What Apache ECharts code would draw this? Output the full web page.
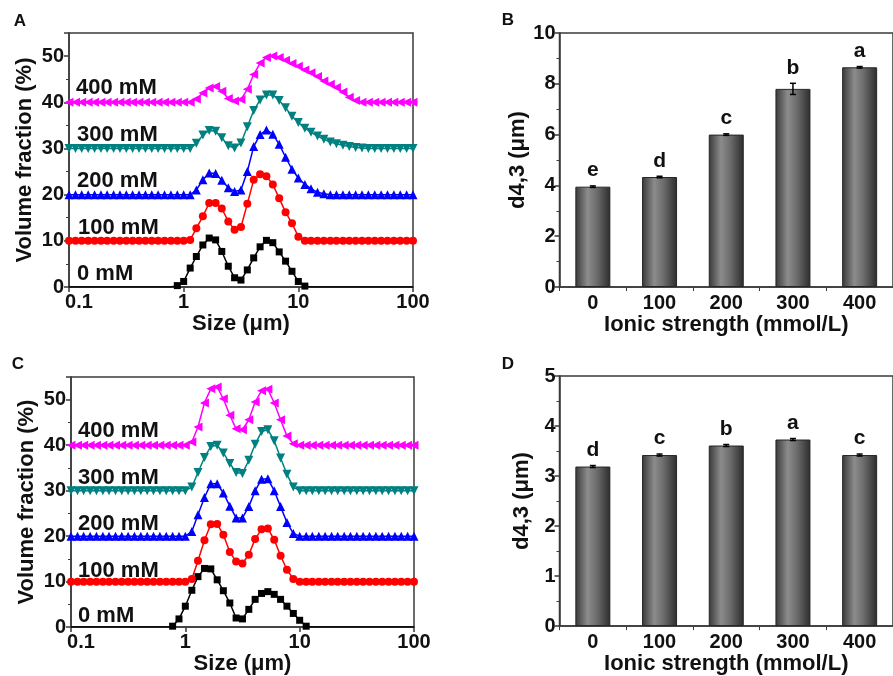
<!DOCTYPE html>
<html>
<head>
<meta charset="utf-8">
<script src="https://cdn.jsdelivr.net/npm/echarts/dist/echarts.min.js"></script>
<style>
html, body { margin: 0; padding: 0; background: #fff; }
#main { width: 893px; height: 676px; }
</style>
</head>
<body>
<div id="main"></div>
<script>
// particle size classes (um)
var sizes = [0.1, 0.114, 0.129, 0.147, 0.167, 0.19, 0.215, 0.245, 0.278, 0.316, 0.359, 0.408, 0.464, 0.527, 0.599, 0.681, 0.774, 0.88,
  1, 1.14, 1.29, 1.47, 1.67, 1.9, 2.15, 2.45, 2.78, 3.16, 3.59, 4.08, 4.64, 5.27, 5.99, 6.81, 7.74, 8.8,
  10, 11.4, 12.9, 14.7, 16.7, 19, 21.5, 24.5, 27.8, 31.6, 35.9, 40.8, 46.4, 52.7, 59.9, 68.1, 77.4, 88, 100]

// panel A, curves already offset by 10 % each
var a0 = [0,0,0,0,0,0,0,0,0,0,0,0,0,0,0,0,0,
  0.3,1.2,4.1,6.6,9.1,10.6,10.2,7.7,4.5,2.0,1.5,3.7,6.3,8.7,10.1,9.6,7.6,5.6,3.4,1.2,0.2,
  0,0,0,0,0,0,0,0,0,0,0,0,0,0,0,0,0]
var a100 = [10,10,10,10,10,10,10,10,10,10,10,10,10,10,10,10,10,10,10,
  10.2,12.7,15.3,18.2,18.2,17.0,14.2,12.4,13.0,18.0,23.2,24.4,24.0,22.2,19.2,16.2,13.8,10.9,
  10,10,10,10,10,10,10,10,10,10,10,10,10,10,10,10,10,10]
var a200 = [20,20,20,20,20,20,20,20,20,20,20,20,20,20,20,20,20,20,20,20,
  21.0,23.2,24.7,24.6,23.1,21.5,20.7,21.0,25.0,30.4,33.0,34.0,33.1,30.9,28.1,25.5,23.6,22.2,21.3,20.5,20.2,
  20,20,20,20,20,20,20,20,20,20,20,20,20,20]
var a300 = [30,30,30,30,30,30,30,30,30,30,30,30,30,30,30,30,30,30,30,30,
  31.1,32.9,33.9,33.7,32.3,30.6,30.1,31.2,34.7,38.2,40.5,41.6,41.6,40.4,38.8,37.0,35.6,34.4,33.5,32.7,32.0,31.4,31.0,30.7,30.4,30.2,30.1,
  30,30,30,30,30,30,30,30]
var a400 = [40,40,40,40,40,40,40,40,40,40,40,40,40,40,40,40,40,40,40,40,
  40.7,42.0,43.1,43.4,42.4,40.8,40.3,40.6,42.8,46.0,48.5,49.7,50.0,49.7,49.1,48.4,47.8,47.0,46.4,45.6,44.6,43.9,43.2,42.2,41.1,40.4,
  40,40,40,40,40,40,40,40,40]

// panel C
var c0 = [0,0,0,0,0,0,0,0,0,0,0,0,0,0,0,0,
  0.2,1.8,4.6,8.1,11.1,12.9,12.8,10.4,8.0,5.3,2.0,1.8,3.9,6.1,7.4,7.8,7.2,6.1,4.6,3.0,1.5,0.2,
  0,0,0,0,0,0,0,0,0,0,0,0,0,0,0,0,0]
var c100 = [10,10,10,10,10,10,10,10,10,10,10,10,10,10,10,10,10,10,10,
  10.6,14.6,19.1,22.6,22.7,20.3,16.5,14.4,14.0,15.9,19.4,21.5,21.7,19.2,15.7,12.6,10.6,
  10,10,10,10,10,10,10,10,10,10,10,10,10,10,10,10,10,10,10]
var c200 = [20,20,20,20,20,20,20,20,20,20,20,20,20,20,20,20,20,20,20,
  21.0,24.7,28.5,31.5,31.5,29.5,26.6,24.0,24.0,26.5,30.0,32.5,32.6,30.0,26.5,23.0,20.6,
  20,20,20,20,20,20,20,20,20,20,20,20,20,20,20,20,20,20,20]
var c300 = [30,30,30,30,30,30,30,30,30,30,30,30,30,30,30,30,30,30,30,
  30.8,34.0,37.3,39.7,40.0,38.3,36.0,34.0,33.8,36.7,40.2,43.0,43.4,41.0,37.2,33.6,30.8,
  30,30,30,30,30,30,30,30,30,30,30,30,30,30,30,30,30,30,30]
var c400 = [40,40,40,40,40,40,40,40,40,40,40,40,40,40,40,40,40,40,40,
  40.7,44.0,49.3,52.4,52.8,50.2,46.6,43.6,43.4,45.6,49.5,52.0,52.3,49.3,45.6,42.0,40.3,
  40,40,40,40,40,40,40,40,40,40,40,40,40,40,40,40,40,40,40]

var concLabels = ['0 mM', '100 mM', '200 mM', '300 mM', '400 mM']

// panels B and D
var ionic = ['0', '100', '200', '300', '400']
var dB = [3.95, 4.33, 6.0, 7.8, 8.65]
var errB = [0.03, 0.03, 0.03, 0.22, 0.03]
var letB = ['e', 'd', 'c', 'b', 'a']
var dD = [3.19, 3.42, 3.61, 3.73, 3.42]
var errD = [0.02, 0.02, 0.02, 0.02, 0.02]
var letD = ['d', 'c', 'b', 'a', 'c']

var FONT = 'Arial, "Liberation Sans", sans-serif'
var INK = '#111'
var AX = '#3a3a3a'

var tickFont = { color: INK, fontSize: 20, fontWeight: 'bold', fontFamily: FONT }
var titleFont = { color: INK, fontSize: 22, fontWeight: 'bold', fontFamily: FONT }
var axLine = { show: true, onZero: false, lineStyle: { color: AX, width: 1.5 } }
var axTick = { show: true, length: 5, lineStyle: { color: AX, width: 1.5 } }

function sizeAxis(gi) {
  return {
    type: 'log', gridIndex: gi, logBase: 10, min: 0.1, max: 100, splitNumber: 3,
    name: 'Size (μm)', nameLocation: 'middle', nameGap: 21, nameTextStyle: titleFont,
    axisLine: axLine, axisTick: axTick, splitLine: { show: false },
    axisLabel: Object.assign({}, tickFont, {
      margin: 5,
      formatter: function (v, i) {
        var s = String(parseFloat(Number(v).toPrecision(3)))
        return i === 0 ? '{f|' + s + '}' : s
      },
      rich: { f: Object.assign({}, tickFont, { padding: [0, 0, 0, 20] }) }
    })
  }
}

function fracAxis(gi) {
  return {
    type: 'value', gridIndex: gi, min: 0, max: 55, interval: 10,
    name: 'Volume fraction (%)', nameLocation: 'middle', nameGap: 33, nameTextStyle: titleFont,
    axisLine: axLine, axisTick: axTick,
    minorTick: { show: true, splitNumber: 2, length: 3, lineStyle: { color: AX, width: 1 } },
    splitLine: { show: false }, minorSplitLine: { show: false },
    axisLabel: Object.assign({}, tickFont, { margin: 5, showMaxLabel: false })
  }
}

function ionicAxis(gi) {
  return {
    type: 'category', gridIndex: gi, data: ionic,
    name: 'Ionic strength (mmol/L)', nameLocation: 'middle', nameGap: 22, nameTextStyle: titleFont,
    axisLine: axLine, axisTick: { show: true, length: 4, alignWithLabel: false, lineStyle: { color: AX, width: 1 } },
    axisLabel: Object.assign({}, tickFont, { margin: 6 })
  }
}

function dAxis(gi, max, step) {
  return {
    type: 'value', gridIndex: gi, min: 0, max: max, interval: step,
    name: 'd4,3 (μm)', nameLocation: 'middle', nameGap: 27, nameTextStyle: titleFont,
    axisLine: axLine, axisTick: axTick,
    minorTick: { show: true, splitNumber: 2, length: 3, lineStyle: { color: AX, width: 1 } },
    splitLine: { show: false },
    axisLabel: Object.assign({}, tickFont, { margin: 4 })
  }
}

// one distribution curve; zero points of the 0 mM curve carry no marker
function curve(name, vals, color, symbol, size, rot, idx) {
  return {
    type: 'line', name: name, xAxisIndex: idx, yAxisIndex: idx,
    symbol: symbol, symbolSize: size, symbolRotate: rot, showSymbol: true, showAllSymbol: true,
    lineStyle: { color: color, width: 1.5 }, itemStyle: { color: color },
    data: sizes.map(function (s, i) {
      var item = { value: [s, vals[i]] }
      if (vals[i] === 0) item.symbol = 'none'
      return item
    })
  }
}

var barFill = new echarts.graphic.LinearGradient(0, 0, 1, 0, [
  { offset: 0, color: '#383838' },
  { offset: 0.35, color: '#8c8c8c' },
  { offset: 0.6, color: '#6e6e6e' },
  { offset: 1, color: '#2c2c2c' }
])

function bars(vals, idx) {
  return {
    type: 'bar', xAxisIndex: idx, yAxisIndex: idx, data: vals, barWidth: 35,
    itemStyle: { color: barFill, borderColor: '#262626', borderWidth: 1 }
  }
}

// error bars and significance letters
function errs(vals, e, letters, idx) {
  return {
    type: 'custom', xAxisIndex: idx, yAxisIndex: idx, z: 5,
    data: vals.map(function (v, i) { return [i, v, e[i]] }),
    renderItem: function (params, api) {
      var hi = api.coord([api.value(0), api.value(1) + api.value(2)])
      var lo = api.coord([api.value(0), api.value(1) - api.value(2)])
      var st = { stroke: '#000', lineWidth: 1.5 }
      return {
        type: 'group', children: [
          { type: 'line', shape: { x1: hi[0], y1: hi[1], x2: lo[0], y2: lo[1] }, style: st },
          { type: 'line', shape: { x1: hi[0] - 3, y1: hi[1], x2: hi[0] + 3, y2: hi[1] }, style: st },
          { type: 'line', shape: { x1: lo[0] - 3, y1: lo[1], x2: lo[0] + 3, y2: lo[1] }, style: st },
          { type: 'text', x: hi[0], y: hi[1] - 5, style: { text: letters[params.dataIndex], fill: INK,
            font: 'bold 21px ' + FONT, align: 'center', verticalAlign: 'bottom' } }
        ]
      }
    }
  }
}

function note(text, x, y) {
  return { type: 'text', x: x, y: y, style: { text: text, fill: INK, font: 'bold 22px ' + FONT, verticalAlign: 'middle' } }
}
function panel(text, x, y) {
  return { type: 'text', x: x, y: y, style: { text: text, fill: INK, font: 'bold 17px ' + FONT, align: 'center', verticalAlign: 'middle' } }
}

var gridBox = { show: true, borderColor: AX, borderWidth: 1.5, backgroundColor: 'transparent' }

var option = {
  animation: false,
  backgroundColor: '#fff',
  grid: [
    Object.assign({ left: 69, top: 33, width: 344, height: 254 }, gridBox),
    Object.assign({ left: 559.5, top: 33, width: 345, height: 254 }, gridBox),
    Object.assign({ left: 71, top: 377, width: 343, height: 251 }, gridBox),
    Object.assign({ left: 559.5, top: 376, width: 345, height: 254 }, gridBox)
  ],
  xAxis: [sizeAxis(0), ionicAxis(1), sizeAxis(2), ionicAxis(3)],
  yAxis: [fracAxis(0), dAxis(1, 10, 2), fracAxis(2), dAxis(3, 5, 1)],
  series: [
    curve('0 mM', a0, '#000000', 'rect', 7, 0, 0),
    curve('100 mM', a100, '#ff0000', 'circle', 8, 0, 0),
    curve('200 mM', a200, '#0000ff', 'triangle', 9, 0, 0),
    curve('300 mM', a300, '#008080', 'triangle', 9, 180, 0),
    curve('400 mM', a400, '#ff00ff', 'triangle', 9, 90, 0),
    bars(dB, 1),
    errs(dB, errB, letB, 1),
    curve('0 mM', c0, '#000000', 'rect', 7, 0, 2),
    curve('100 mM', c100, '#ff0000', 'circle', 8, 0, 2),
    curve('200 mM', c200, '#0000ff', 'triangle', 9, 0, 2),
    curve('300 mM', c300, '#008080', 'triangle', 9, 180, 2),
    curve('400 mM', c400, '#ff00ff', 'triangle', 9, 90, 2),
    bars(dD, 3),
    errs(dD, errD, letD, 3)
  ],
  graphic: [
    panel('A', 20, 21), panel('B', 508, 20), panel('C', 18, 364), panel('D', 508, 364),
    note(concLabels[4], 76, 88), note(concLabels[3], 77, 135), note(concLabels[2], 77, 181),
    note(concLabels[1], 78, 228), note(concLabels[0], 77, 274),
    note(concLabels[4], 78, 431), note(concLabels[3], 78, 478), note(concLabels[2], 78, 524),
    note(concLabels[1], 78, 571), note(concLabels[0], 78, 616)
  ]
}

var chart = echarts.init(document.getElementById('main'), null, { renderer: 'canvas' })
chart.setOption(option)
</script>
</body>
</html>
